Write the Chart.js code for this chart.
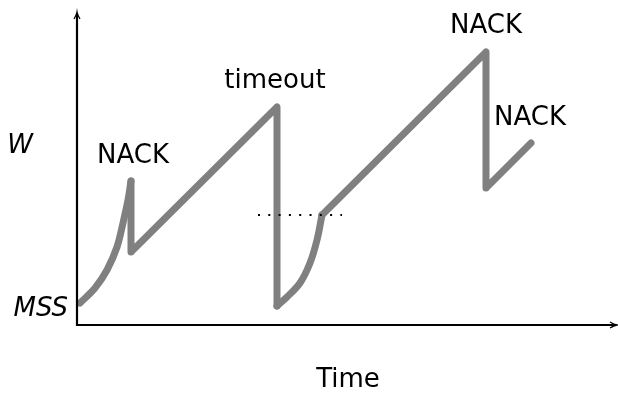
<!DOCTYPE html>
<html>
<head>
<meta charset="utf-8">
<script src="https://cdn.jsdelivr.net/npm/chart.js@4/dist/chart.umd.min.js"></script>
<style>
  html, body { margin: 0; padding: 0; background: #fff; }
  canvas { display: block; }
</style>
</head>
<body>
<canvas id="cwnd" width="618" height="394"></canvas>
<script>
// Congestion window over time (time and window in arbitrary units)
const slowStart1X = [3, 18, 30, 40, 46, 51, 54];
const slowStart1Y = [22, 37, 55, 78, 102, 125, 144];
const sawtooth1X = [54, 54, 200, 200];
const sawtooth1Y = [144, 73, 218, 19];
const slowStart2X = [200, 210, 223, 233, 240, 245];
const slowStart2Y = [19, 28, 42, 62, 85, 110];
const sawtooth2X = [245, 409, 409, 454];
const sawtooth2Y = [110, 273, 137, 182];
const thresholdX = [181, 265];
const thresholdY = [110, 110];

const toPts = (xs, ys) => xs.map((x, i) => ({ x: x, y: ys[i] }));

const lineGray = '#808080';
const textFont = '26px "DejaVu Sans"';
const italicFont = 'italic 26px "DejaVu Sans"';

// axes with arrows + text labels
const decorations = {
    id: 'decorations',
    afterDatasetsDraw(chart) {
        const { ctx, chartArea: a, scales: { x, y } } = chart;
        ctx.save();
        ctx.strokeStyle = '#000';
        ctx.fillStyle = '#000';
        ctx.lineWidth = 2.2;
        ctx.beginPath();
        ctx.moveTo(a.left, a.top + 2);
        ctx.lineTo(a.left, a.bottom);
        ctx.lineTo(a.right - 2, a.bottom);
        ctx.stroke();
        // arrow heads
        ctx.lineWidth = 1.3;
        ctx.beginPath();
        ctx.moveTo(a.left - 3, a.top + 7);
        ctx.quadraticCurveTo(a.left - 0.5, a.top + 3, a.left, a.top);
        ctx.quadraticCurveTo(a.left + 0.5, a.top + 3, a.left + 3, a.top + 7);
        ctx.stroke();
        ctx.beginPath();
        ctx.moveTo(a.right - 7, a.bottom - 3);
        ctx.quadraticCurveTo(a.right - 3, a.bottom - 0.5, a.right, a.bottom);
        ctx.quadraticCurveTo(a.right - 3, a.bottom + 0.5, a.right - 7, a.bottom + 3);
        ctx.stroke();

        // annotations
        ctx.font = textFont;
        ctx.textAlign = 'center';
        ctx.textBaseline = 'alphabetic';
        ctx.fillText('NACK', x.getPixelForValue(56), y.getPixelForValue(162));
        ctx.fillText('timeout', x.getPixelForValue(198), y.getPixelForValue(237));
        ctx.fillText('NACK', x.getPixelForValue(409), y.getPixelForValue(292));
        ctx.fillText('NACK', x.getPixelForValue(453), y.getPixelForValue(200));
        ctx.fillText('Time', x.getPixelForValue(271), 387);

        ctx.font = italicFont;
        ctx.textAlign = 'right';
        ctx.fillText('W', a.left - 44, y.getPixelForValue(172));
        ctx.fillText('MSS', a.left - 9, y.getPixelForValue(9));
        ctx.restore();
    }
};

const curveStyle = {
    borderColor: lineGray,
    borderWidth: 7,
    borderCapStyle: 'round',
    borderJoinStyle: 'round',
    pointRadius: 0,
    fill: false,
    clip: false
};

new Chart(document.getElementById('cwnd'), {
    type: 'line',
    data: {
        datasets: [
            { ...curveStyle, data: toPts(slowStart1X, slowStart1Y), tension: 0.35 },
            { ...curveStyle, data: toPts(sawtooth1X, sawtooth1Y), tension: 0 },
            { ...curveStyle, data: toPts(slowStart2X, slowStart2Y), tension: 0.35 },
            { ...curveStyle, data: toPts(sawtooth2X, sawtooth2Y), tension: 0 },
            {
                data: toPts(thresholdX, thresholdY),
                borderColor: '#000',
                borderWidth: 2,
                borderDash: [2, 8.3],
                borderCapStyle: 'butt',
                pointRadius: 0,
                fill: false,
                order: -1
            }
        ]
    },
    options: {
        responsive: false,
        animation: false,
        layout: { padding: { left: 77, right: 1, top: 12, bottom: 69 } },
        plugins: { legend: { display: false }, tooltip: { enabled: false } },
        scales: {
            x: { type: 'linear', min: 0, max: 540, display: false },
            y: { type: 'linear', min: 0, max: 313, display: false }
        }
    },
    plugins: [decorations]
});
</script>
</body>
</html>
